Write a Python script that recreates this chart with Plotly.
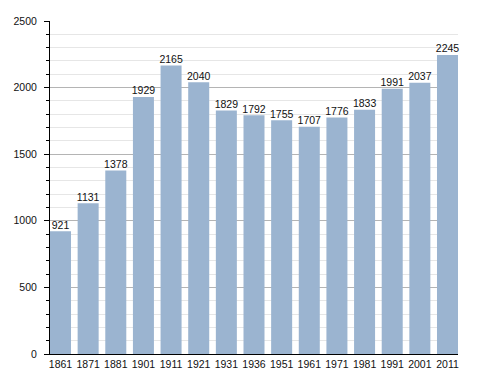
import plotly.graph_objects as go

years = ["1861", "1871", "1881", "1901", "1911", "1921", "1931", "1936",
         "1951", "1961", "1971", "1981", "1991", "2001", "2011"]
population = [921, 1131, 1378, 1929, 2165, 2040, 1829, 1792,
              1755, 1707, 1776, 1833, 1991, 2037, 2245]

FONT = "Liberation Sans, Arial, sans-serif"

fig = go.Figure()
fig.add_trace(go.Bar(
    x=years, y=population,
    marker=dict(color="#9bb4d0", line=dict(width=0)),
    width=0.76,
    hoverinfo="x+y",
))
fig.add_trace(go.Scatter(
    x=years, y=population,
    mode="text",
    text=[str(v) for v in population],
    textposition="top center",
    textfont=dict(family=FONT, size=10.5, color="#111"),
    cliponaxis=False,
    hoverinfo="skip",
))

# page body has an 8px default margin, so the figure is sized to fit
fig.update_layout(
    width=480, height=365,
    margin=dict(l=42, r=30, t=13, b=19),
    paper_bgcolor="white", plot_bgcolor="white",
    font=dict(family=FONT, size=10.5, color="#111"),
    showlegend=False,
)
fig.update_xaxes(
    type="category",
    range=[-0.38, 14.38],
    showline=True, linecolor="black", linewidth=1,
    ticks="", showgrid=False,
    tickfont=dict(size=10.5),
    automargin=False,
)
fig.update_yaxes(
    range=[0, 2500], dtick=500,
    showline=True, linecolor="black", linewidth=1,
    ticks="outside", ticklen=5, tickcolor="black",
    showgrid=True, gridcolor="#b4b4b4", gridwidth=1,
    zeroline=False,
    tickfont=dict(size=10.5),
    ticklabelstandoff=5,
    automargin=False,
    minor=dict(dtick=100, ticks="outside", ticklen=3, tickcolor="black",
               showgrid=True, gridcolor="#e6e6e6", gridwidth=1),
)

fig.write_html("out.html")
